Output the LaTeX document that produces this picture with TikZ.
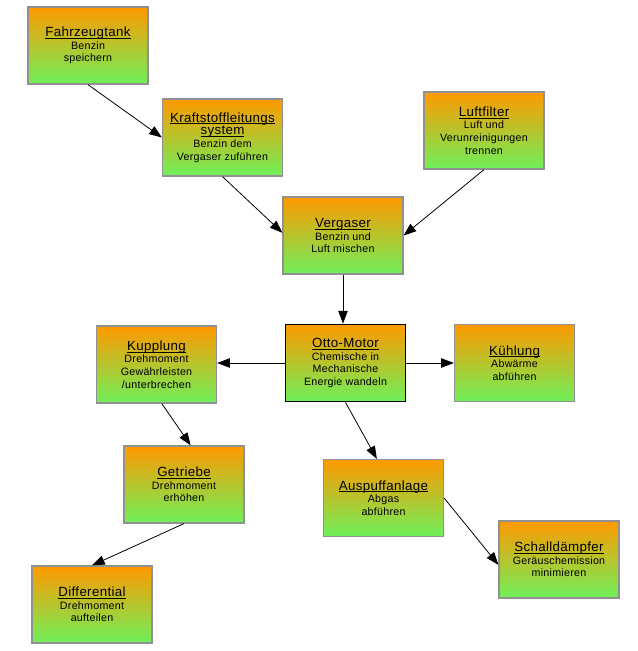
\documentclass[tikz,border=0pt]{standalone}
\usepackage{fontspec}
\setmainfont[LetterSpace=2.5]{Liberation Sans}
\usepackage{tikz}
\usetikzlibrary{arrows.meta}
\definecolor{boxtop}{RGB}{255,153,0}
\definecolor{boxbottom}{RGB}{110,240,90}
\definecolor{boxrand}{RGB}{145,145,145}
\newsavebox{\titelbox}
\newcommand{\titel}[1]{{\fontsize{10}{12}\selectfont\sbox{\titelbox}{#1}%
  \rlap{\rule[-1.5pt]{\wd\titelbox}{0.55pt}}\usebox{\titelbox}}}
\tikzset{
  teil/.style={draw=boxrand,line width=0.9pt,top color=boxtop,bottom color=boxbottom,
    minimum width=90pt,minimum height=57.75pt,inner sep=1pt,align=center,
    font=\fontsize{8}{9.5}\selectfont},
  motor/.style={teil,draw=black,line width=1.3pt},
  pfeil/.style={-{Triangle[length=9.5pt,width=7pt]},line width=0.6pt,black}
}

\begin{document}
\begin{tikzpicture}[x=0.75pt,y=-0.75pt]
  \useasboundingbox (0,0) rectangle (638,651);

  \node[teil] (tank) at (88,45.5) {\titel{Fahrzeugtank}\\Benzin\\speichern};
  \node[teil] (leitung) at (222.5,137.5) {\titel{Kraftstoffleitungs}\\\titel{system}\\Benzin dem\\Vergaser zuführen};
  \node[teil] (luftfilter) at (484,130.5) {\titel{Luftfilter}\\Luft und\\Verunreinigungen\\trennen};
  \node[teil] (vergaser) at (343,235.5) {\titel{Vergaser}\\Benzin und\\Luft mischen};
  \node[motor] (motor) at (345.5,363) {\titel{Otto-Motor}\\Chemische in\\Mechanische\\Energie wandeln};
  \node[teil] (kupplung) at (156.5,364.5) {\titel{Kupplung}\\Drehmoment\\Gewährleisten\\/unterbrechen};
  \node[teil] (kuehlung) at (514.5,363) {\titel{Kühlung}\\Abwärme\\abführen};
  \node[teil] (getriebe) at (184,484.5) {\titel{Getriebe}\\Drehmoment\\erhöhen};
  \node[teil] (auspuff) at (383.5,498) {\titel{Auspuffanlage}\\Abgas\\abführen};
  \node[teil] (schall) at (559,559.5) {\titel{Schalldämpfer}\\Geräuschemission\\minimieren};
  \node[teil] (differential) at (92,604.5) {\titel{Differential}\\Drehmoment\\aufteilen};

  \draw[pfeil] (tank.south) -- (leitung.west);
  \draw[pfeil] (leitung.south) -- ([yshift=2pt]vergaser.west);
  \draw[pfeil] (luftfilter.south) -- (vergaser.east);
  \draw[pfeil] (vergaser.south) -- (vergaser.south |- motor.north);
  \draw[pfeil] (motor.west) -- (motor.west -| kupplung.east);
  \draw[pfeil] (motor.east) -- (kuehlung.west);
  \draw[pfeil] ([xshift=4pt]kupplung.south) -- ([xshift=5pt]getriebe.north);
  \draw[pfeil] (motor.south) -- ([xshift=-5pt]auspuff.north);
  \draw[pfeil] (getriebe.south) -- (differential.north);
  \draw[pfeil] (auspuff.east) -- ([yshift=-4pt]schall.west);
\end{tikzpicture}
\end{document}
